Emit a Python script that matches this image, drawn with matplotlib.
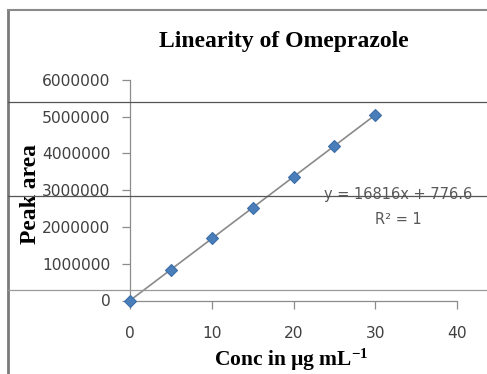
import matplotlib
matplotlib.use('Agg')
import matplotlib.pyplot as plt
import numpy as np
from matplotlib.lines import Line2D

# data
conc = [0, 5, 10, 15, 20, 25, 30]
peak_area = [0, 830000, 1690000, 2530000, 3370000, 4210000, 5040000]
x_ticks = [0, 10, 20, 30, 40]
y_ticks = [0, 1000000, 2000000, 3000000, 4000000, 5000000, 6000000]
equation = 'y = 16816x + 776.6'
r_squared = 'R\u00b2 = 1'

plt.rcParams['mathtext.fontset'] = 'custom'
plt.rcParams['mathtext.rm'] = 'Liberation Serif:bold'
plt.rcParams['mathtext.default'] = 'rm'

W, H = 487, 374
fig = plt.figure(figsize=(W / 100, H / 100), dpi=100)
ax = fig.add_axes([130 / W, 1 - 300.5 / H, 327 / W, 220.5 / H])

# trendline over the data range
slope, icpt = np.polyfit(conc, peak_area, 1)
xs = np.array([min(conc), max(conc)])
ax.plot(xs, slope * xs + icpt, color='#8a8a8a', lw=1.2, zorder=2)
ax.plot(conc, peak_area, 'D', ms=6.6, color='#4a7ebb', mec='#3b6ea8',
        mew=0.8, zorder=3, clip_on=False)

ax.set_xlim(0, 40)
ax.set_ylim(0, 6000000)
ax.set_xticks(x_ticks)
ax.set_yticks(y_ticks)
ax.set_yticklabels([str(v) for v in y_ticks])
for s in ['top', 'right']:
    ax.spines[s].set_visible(False)
for s in ['left', 'bottom']:
    ax.spines[s].set_color('#8c8c8c')
    ax.spines[s].set_linewidth(0.9)
ax.tick_params(axis='both', direction='out', length=5.5, width=0.9,
               color='#8c8c8c', labelsize=11.2, labelcolor='#404040')
ax.tick_params(axis='y', pad=8.5)
ax.tick_params(axis='x', pad=13)
for lab in ax.get_xticklabels() + ax.get_yticklabels():
    lab.set_family('DejaVu Sans')

fig.text(284 / W, 1 - 41 / H, 'Linearity of Omeprazole', ha='center',
         va='center', family='Liberation Serif', weight='bold', fontsize=17)
fig.text(30 / W, 1 - 194 / H, 'Peak area', rotation=90, ha='center',
         va='center', family='Liberation Serif', weight='bold', fontsize=17)
fig.text(291 / W, 1 - 360 / H, 'Conc in \u00b5g mL$^{-1}$', ha='center',
         va='center', family='Liberation Serif', weight='bold', fontsize=15.5)

fig.text(398 / W, 1 - 195 / H, equation, ha='center', va='center',
         family='DejaVu Sans', fontsize=10.5, color='#595959')
fig.text(398 / W, 1 - 220 / H, r_squared, ha='center', va='center',
         family='DejaVu Sans', fontsize=10.5, color='#595959')

# frame and stray scan lines of the source image
fig.add_artist(Line2D([8 / W, 8 / W], [0, 1 - 10 / H], color='#7a7a7a',
                      lw=2, transform=fig.transFigure))
fig.add_artist(Line2D([8 / W, 1], [1 - 10 / H, 1 - 10 / H], color='#8a8a8a',
                      lw=1.5, transform=fig.transFigure))
for py, c in [(102, '#555555'), (196, '#555555'), (290, '#9a9a9a')]:
    fig.add_artist(Line2D([8 / W, 1], [1 - py / H, 1 - py / H], color=c,
                          lw=0.9, transform=fig.transFigure, zorder=10))

fig.savefig('out.png', dpi=100)
